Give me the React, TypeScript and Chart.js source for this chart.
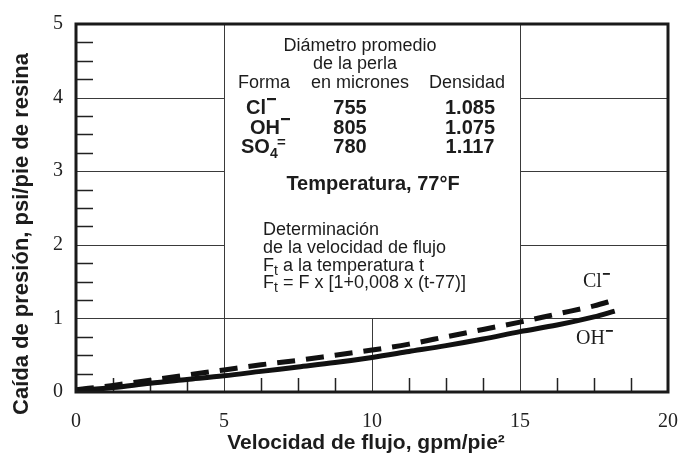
import React, { useEffect, useRef } from 'react';
import { Chart, registerables } from 'chart.js';

Chart.register(...registerables);

// Flow velocity, gpm/ft² (x)
const flowVelocity = [0, 1.25, 2.5, 3.75, 5, 6.25, 7.5, 8.75, 10, 11.25, 12.5, 13.75, 15, 16.25, 17.5, 18.2];
// Pressure drop, psi/ft of resin (y)
const pressureDropCl = [0.03, 0.09, 0.16, 0.23, 0.3, 0.37, 0.43, 0.5, 0.57, 0.65, 0.75, 0.85, 0.95, 1.06, 1.17, 1.25];
const pressureDropOH = [0.02, 0.06, 0.12, 0.17, 0.22, 0.28, 0.34, 0.4, 0.47, 0.55, 0.63, 0.72, 0.82, 0.91, 1.02, 1.1];

const xTicks = [0, 5, 10, 15, 20];
const yTicks = [0, 1, 2, 3, 4, 5];

const xTitle = 'Velocidad de flujo, gpm/pie²';
const yTitle = 'Caída de presión, psi/pie de resina';

const tableHeader = ['Forma', 'en micrones', 'Densidad'];
const tableForms = ['Cl', 'OH', 'SO'];
const tableDiameters = ['755', '805', '780'];
const tableDensities = ['1.085', '1.075', '1.117'];

const SANS = '"Liberation Sans", Arial, Helvetica, sans-serif';
const SERIF = '"Liberation Serif", "Times New Roman", serif';
const INK = '#1c1c1c';

const framePlugin = {
  id: 'frame',
  beforeDatasetsDraw(chart: any) {
    const { ctx, chartArea: a, scales } = chart;
    const xs = scales.x;
    const ys = scales.y;
    const px = (v: number) => Math.round(xs.getPixelForValue(v)) + 0.5;
    const py = (v: number) => Math.round(ys.getPixelForValue(v)) + 0.5;
    ctx.save();
    ctx.strokeStyle = '#3a3a3a';
    ctx.lineWidth = 1;
    ctx.beginPath();
    ctx.moveTo(a.left, py(1));
    ctx.lineTo(a.right, py(1));
    [2, 3, 4].forEach((v) => {
      ctx.moveTo(a.left, py(v));
      ctx.lineTo(px(5), py(v));
      ctx.moveTo(px(15), py(v));
      ctx.lineTo(a.right, py(v));
    });
    [5, 15].forEach((v) => {
      ctx.moveTo(px(v), a.top);
      ctx.lineTo(px(v), a.bottom);
    });
    ctx.moveTo(px(10), py(1));
    ctx.lineTo(px(10), a.bottom);
    ctx.stroke();

    ctx.strokeStyle = '#222';
    ctx.lineWidth = 1.5;
    ctx.beginPath();
    for (let v = 0.25; v < 5; v += 0.25) {
      if (Math.abs(v - Math.round(v)) < 1e-6) continue;
      const y = py(v);
      ctx.moveTo(a.left, y);
      ctx.lineTo(a.left + 17, y);
    }
    for (let v = 1.25; v < 20; v += 1.25) {
      if (Math.abs(v / 5 - Math.round(v / 5)) < 1e-6) continue;
      const x = px(v);
      ctx.moveTo(x, a.bottom);
      ctx.lineTo(x, a.bottom - 14);
    }
    ctx.stroke();
    ctx.restore();
  },
  afterDatasetsDraw(chart: any) {
    const { ctx, chartArea: a } = chart;
    ctx.save();
    ctx.strokeStyle = '#1a1a1a';
    ctx.lineWidth = 3;
    ctx.strokeRect(a.left, a.top, a.right - a.left, a.bottom - a.top);
    ctx.restore();
  },
  afterDraw(chart: any) {
    const { ctx, chartArea: a, scales } = chart;
    const cx = (scales.x.getPixelForValue(5) + scales.x.getPixelForValue(15)) / 2;
    const t = a.top;
    ctx.save();
    ctx.fillStyle = INK;
    ctx.textBaseline = 'alphabetic';

    ctx.font = `18px ${SANS}`;
    ctx.textAlign = 'center';
    ctx.fillText('Diámetro promedio', cx - 12, t + 27);
    ctx.fillText('de la perla', cx - 17, t + 45);
    ctx.fillText(tableHeader[0], cx - 108, t + 64);
    ctx.fillText(tableHeader[1], cx - 12, t + 64);
    ctx.fillText(tableHeader[2], cx + 95, t + 64);

    const rowBase = [t + 90, t + 110, t + 129];
    const formLeft = [cx - 126, cx - 122, cx - 131];
    for (let i = 0; i < 3; i++) {
      const b = rowBase[i];
      ctx.textAlign = 'left';
      ctx.font = `bold 20px ${SANS}`;
      ctx.fillText(tableForms[i], formLeft[i], b);
      const w = ctx.measureText(tableForms[i]).width;
      if (i < 2) {
        ctx.fillRect(formLeft[i] + w + 1, b - 16, 9, 2.2);
      } else {
        ctx.font = `bold 14px ${SANS}`;
        ctx.fillText('4', formLeft[i] + w, b + 5);
        ctx.font = `bold 15px ${SANS}`;
        ctx.fillText('=', formLeft[i] + w + 7, b - 6);
      }
      ctx.font = `bold 20px ${SANS}`;
      ctx.textAlign = 'center';
      ctx.fillText(tableDiameters[i], cx - 22, b);
      ctx.fillText(tableDensities[i], cx + 98, b);
    }

    ctx.font = `bold 20px ${SANS}`;
    ctx.textAlign = 'center';
    ctx.fillText('Temperatura, 77°F', cx + 1, t + 166);

    ctx.font = `18px ${SANS}`;
    ctx.textAlign = 'left';
    const lx = cx - 109;
    ctx.fillText('Determinación', lx, t + 211);
    ctx.fillText('de la velocidad de flujo', lx, t + 229);
    ctx.fillText('F', lx, t + 247);
    const fw = ctx.measureText('F').width;
    ctx.font = `14px ${SANS}`;
    ctx.fillText('t', lx + fw, t + 251);
    const tw = ctx.measureText('t').width;
    ctx.font = `18px ${SANS}`;
    ctx.fillText(' a la temperatura t', lx + fw + tw, t + 247);
    ctx.fillText('F', lx, t + 264);
    ctx.font = `14px ${SANS}`;
    ctx.fillText('t', lx + fw, t + 268);
    ctx.font = `18px ${SANS}`;
    ctx.fillText(' = F x [1+0,008 x (t-77)]', lx + fw + tw, t + 264);

    ctx.font = `20px ${SERIF}`;
    ctx.textAlign = 'left';
    ctx.fillText('Cl', 583, 287);
    const w1 = ctx.measureText('Cl').width;
    ctx.fillRect(583 + w1 + 1, 273, 7, 1.8);
    ctx.fillText('OH', 576, 344);
    const w2 = ctx.measureText('OH').width;
    ctx.fillRect(576 + w2 + 1, 330, 7, 1.8);

    ctx.font = `bold 21px ${SANS}`;
    ctx.textAlign = 'center';
    ctx.fillText(xTitle, 366, 449);
    ctx.font = `bold 22px ${SANS}`;
    ctx.translate(28, 234);
    ctx.rotate(-Math.PI / 2);
    ctx.fillText(yTitle, 0, 0);
    ctx.restore();
  },
};

export default function App() {
  const ref = useRef<HTMLCanvasElement | null>(null);
  useEffect(() => {
    if (!ref.current) return;
    const chart = new Chart(ref.current, {
      type: 'line',
      data: {
        datasets: [
          {
            label: 'Cl-',
            data: flowVelocity.map((x, i) => ({ x, y: pressureDropCl[i] })),
            borderColor: '#111',
            borderWidth: 5,
            borderDash: [18, 11],
            borderCapStyle: 'butt',
            pointRadius: 0,
            cubicInterpolationMode: 'monotone',
            fill: false,
          },
          {
            label: 'OH-',
            data: flowVelocity.map((x, i) => ({ x, y: pressureDropOH[i] })),
            borderColor: '#111',
            borderWidth: 5,
            pointRadius: 0,
            cubicInterpolationMode: 'monotone',
            fill: false,
          },
        ],
      },
      options: {
        animation: false,
        responsive: true,
        maintainAspectRatio: false,
        layout: { padding: { top: 24, right: 11, left: 0, bottom: 0 } },
        plugins: { legend: { display: false }, tooltip: { enabled: false } },
        scales: {
          x: {
            type: 'linear',
            min: 0,
            max: 20,
            grid: { display: false },
            border: { display: false },
            afterFit: (s: any) => {
              s.height = 62;
              s.paddingLeft = 0;
              s.paddingRight = 0;
            },
            afterBuildTicks: (s: any) => {
              s.ticks = xTicks.map((v) => ({ value: v }));
            },
            ticks: {
              padding: 10,
              color: '#222',
              font: { family: SERIF, size: 20 },
              maxRotation: 0,
            },
          },
          y: {
            type: 'linear',
            min: 0,
            max: 5,
            grid: { display: false },
            border: { display: false },
            afterFit: (s: any) => {
              s.width = 76;
              s.paddingTop = 0;
              s.paddingBottom = 0;
            },
            afterBuildTicks: (s: any) => {
              s.ticks = yTicks.map((v) => ({ value: v }));
            },
            ticks: {
              padding: 5,
              color: '#222',
              font: { family: SERIF, size: 20 },
            },
          },
        },
      },
      plugins: [framePlugin],
    } as any);
    return () => chart.destroy();
  }, []);
  return (
    <div style={{ position: 'absolute', left: 0, top: 0, width: 679, height: 454, background: '#fff' }}>
      <canvas ref={ref} />
    </div>
  );
}
